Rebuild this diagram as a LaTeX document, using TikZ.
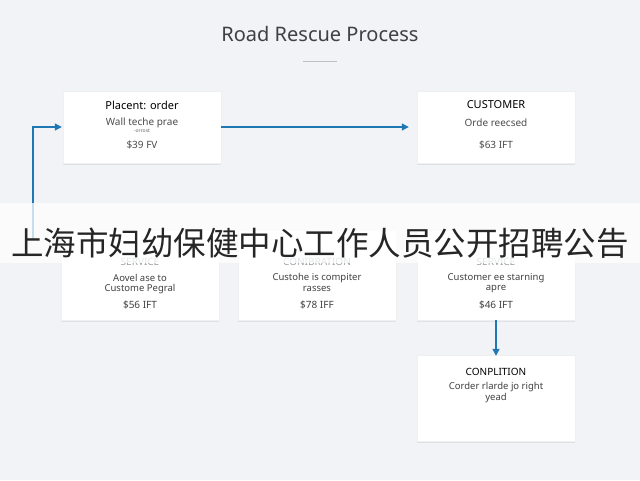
\documentclass[tikz,border=0pt]{standalone}
\usepackage{fontspec}
\setmainfont{Noto Sans}
\newfontfamily\cjk{Noto Sans CJK SC}
\usetikzlibrary{positioning, arrows.meta, shadows}
\definecolor{bgcol}{HTML}{F1F3F7}
\definecolor{flowblue}{HTML}{1F78B4}
\definecolor{headgrey}{HTML}{9AA0A6}
\begin{document}
\begin{tikzpicture}[x=1pt, y=-1pt,
  stepbox/.style={fill=white, draw=gray!12, minimum width=158pt, minimum height=72pt,
    drop shadow={shadow xshift=0pt, shadow yshift=-2pt, opacity=0.15}},
  flow/.style={draw=flowblue, line width=1.2pt, -{Triangle[length=7pt, width=7pt]}}]
  \fill[bgcol] (0,0) rectangle (640,480);
  \useasboundingbox (0,0) rectangle (640,480);
  % title
  \node[font=\fontsize{20}{24}\selectfont, text=black!75] (title) at (320,34) {Road Rescue Process};
  \draw[gray!50, line width=0.8pt] (303,61) -- (337,61);
  % top row
  \node[stepbox] (order) at (142,127) {};
  \node[stepbox] (customer) at (496,127) {};
  \node[font=\fontsize{11}{13}\selectfont] at (142,105) {Placent: order};
  \node[font=\fontsize{10}{12}\selectfont, text=black!70] at (142,123) {Wall teche prae};
  \node[font=\fontsize{5}{6}\selectfont, text=black!60] at (142,131) {-orrost};
  \node[font=\fontsize{10}{12}\selectfont, text=black!70] at (142,145) {\$39 FV};
  \node[font=\fontsize{11}{13}\selectfont] at (496,105) {CUSTOMER};
  \node[font=\fontsize{10}{12}\selectfont, text=black!70] at (496,123) {Orde reecsed};
  \node[font=\fontsize{10}{12}\selectfont, text=black!70] at (496,145) {\$63 IFT};
  % bottom row
  \node[stepbox, minimum height=90pt] (service) at (140,275) {};
  \node[stepbox, minimum height=90pt] (confirm) at (317,275) {};
  \node[stepbox, minimum height=90pt] (start) at (496,275) {};
  \foreach \x/\head/\la/\lb/\price in {140/SERVICE/Aovel ase to/Custome Pegral/\$56 IFT,
      317/CONIBRATION/Custohe is compiter/rasses/\$78 IFF,
      496/SERVICE/Customer ee starning/apre/\$46 IFT} {
    \node[font=\fontsize{10}{12}\selectfont, text=headgrey] at (\x,262) {\head};
    \node[font=\fontsize{9.5}{11}\selectfont, text=black!75] at (\x,278) {\la};
    \node[font=\fontsize{9.5}{11}\selectfont, text=black!75] at (\x,289) {\lb};
    \node[font=\fontsize{10}{12}\selectfont, text=black!75] at (\x,305) {\price};
  }
  \node[stepbox, minimum height=86pt] (done) at (496,398) {};
  \node[font=\fontsize{10}{12}\selectfont] at (496,372) {CONPLITION};
  \node[font=\fontsize{9.5}{11}\selectfont, text=black!75] at (496,387) {Corder rlarde jo right};
  \node[font=\fontsize{9.5}{11}\selectfont, text=black!75] at (496,398) {yead};
  % connectors
  \coordinate (loop) at (33,240);
  \draw[flow] (order.east) -- ([xshift=-8pt]customer.west);
  \draw[flow] (loop) |- ([xshift=-1pt]order.west);
  \draw[flow] (start.south) -- ([yshift=-1pt]done.north);
  % banner
  \fill[white, opacity=0.75] (0,203) rectangle (640,263);
  \node[font=\cjk\fontsize{32.5}{38}\selectfont, text=black!85] (banner) at (320,243) {上海市妇幼保健中心工作人员公开招聘公告};
\end{tikzpicture}
\end{document}
